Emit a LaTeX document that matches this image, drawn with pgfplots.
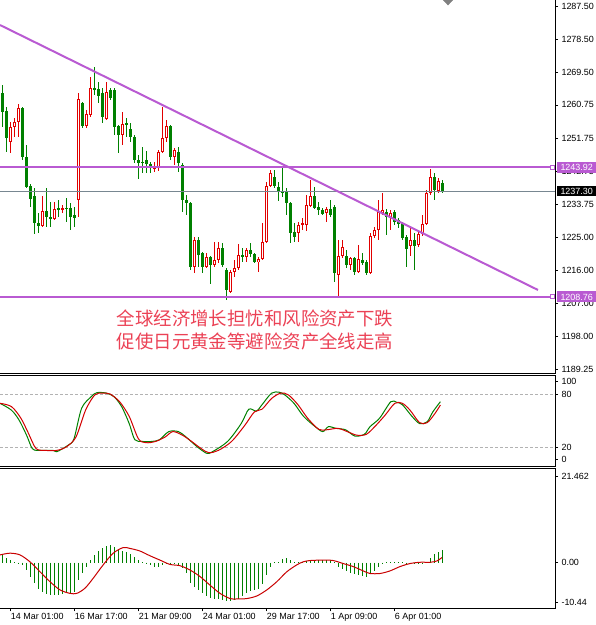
\documentclass[border=0pt]{standalone}
\usepackage{pgfplots}
\pgfplotsset{compat=1.18}
\usepackage{pgfplotstable}
\usepackage{fontspec}
\setmainfont{Liberation Sans}
\newfontfamily\cjk{Noto Sans CJK SC}

\definecolor{bull}{RGB}{225,0,0}
\definecolor{bear}{RGB}{0,128,0}
\definecolor{lvl}{RGB}{185,90,210}
\definecolor{note}{RGB}{235,65,85}
\definecolor{bidline}{RGB}{120,135,145}
\definecolor{stochK}{RGB}{0,128,0}
\definecolor{stochD}{RGB}{210,0,0}
\definecolor{sig}{RGB}{200,0,0}

\newcommand\tickfont{\fontsize{9}{10}\selectfont}

% H4 candles, one row per bar (open high low close)
\pgfplotstableread{
o h l c
1263.95 1266.12 1254.75 1258.81
1259.08 1260.16 1247.98 1251.77
1250.69 1256.10 1247.71 1254.75
1254.75 1257.18 1252.04 1256.10
1256.10 1260.97 1252.04 1259.89
1259.89 1260.16 1245.82 1246.63
1246.63 1249.88 1238.24 1238.51
1238.78 1239.32 1233.10 1235.26
1236.07 1238.24 1225.79 1228.77
1228.77 1231.47 1226.06 1227.96
1227.96 1236.07 1227.69 1232.02
1232.02 1238.24 1227.69 1230.39
1230.39 1234.45 1227.69 1229.85
1229.85 1234.45 1229.58 1232.56
1232.83 1234.99 1230.39 1232.29
1232.29 1233.64 1231.47 1232.83
1232.83 1235.53 1229.04 1232.56
1232.83 1234.18 1226.87 1230.39
1230.93 1233.10 1227.69 1230.12
1234.99 1263.95 1230.39 1262.33
1261.24 1261.51 1254.48 1255.02
1255.02 1259.35 1254.48 1258.27
1258.00 1268.28 1257.45 1265.30
1265.30 1270.99 1263.41 1264.76
1265.03 1266.93 1261.24 1263.14
1263.95 1265.30 1255.83 1257.45
1256.91 1266.93 1256.64 1264.22
1264.76 1265.30 1262.06 1262.60
1264.76 1265.30 1252.58 1254.75
1255.02 1255.29 1247.71 1252.58
1252.58 1258.81 1249.88 1255.56
1255.83 1257.18 1252.04 1255.29
1254.21 1255.83 1250.69 1252.04
1252.04 1252.58 1245.01 1245.82
1245.82 1247.17 1240.68 1245.01
1245.28 1249.34 1242.30 1245.01
1245.82 1248.25 1242.30 1244.74
1244.74 1245.28 1242.30 1243.65
1243.65 1245.28 1242.57 1243.92
1243.65 1248.52 1242.84 1247.98
1247.98 1260.16 1247.71 1251.77
1251.77 1256.64 1250.69 1255.02
1255.02 1255.29 1245.82 1246.63
1246.63 1249.07 1244.47 1248.52
1247.98 1249.34 1242.57 1245.01
1244.47 1245.01 1231.74 1234.99
1234.99 1236.35 1230.93 1234.18
1234.18 1234.45 1216.05 1216.86
1216.86 1224.98 1215.24 1224.17
1224.17 1224.98 1216.86 1220.11
1220.65 1220.92 1215.24 1216.86
1216.86 1220.65 1216.59 1219.56
1219.56 1219.84 1212.26 1217.40
1217.40 1223.62 1216.86 1218.75
1218.75 1223.62 1217.94 1222.00
1222.00 1223.35 1216.86 1217.40
1216.05 1216.59 1207.93 1210.63
1210.09 1216.05 1209.82 1215.51
1215.51 1218.75 1214.15 1216.59
1216.59 1223.08 1216.05 1220.11
1220.11 1222.00 1218.21 1219.56
1219.56 1222.00 1218.21 1221.46
1221.46 1223.35 1219.56 1220.38
1220.38 1220.65 1217.94 1218.21
1218.21 1219.56 1215.51 1219.02
1219.02 1228.77 1218.75 1223.62
1223.62 1239.86 1223.35 1238.78
1238.78 1243.11 1238.51 1242.30
1241.22 1243.11 1238.24 1238.78
1238.51 1239.86 1234.72 1237.16
1237.16 1244.19 1235.80 1236.89
1237.16 1238.24 1230.93 1234.18
1234.18 1234.45 1223.35 1226.06
1226.33 1228.77 1223.62 1224.98
1226.06 1229.04 1223.62 1228.23
1228.23 1230.12 1226.87 1228.77
1228.23 1236.35 1226.60 1233.64
1233.37 1240.40 1233.10 1236.07
1236.07 1238.51 1232.56 1232.83
1233.10 1234.45 1230.93 1232.29
1232.29 1232.83 1230.93 1231.20
1231.47 1233.10 1229.04 1232.56
1232.56 1234.99 1230.39 1230.93
1233.10 1233.64 1212.80 1215.24
1214.69 1224.17 1209.01 1219.84
1219.84 1224.17 1219.29 1222.27
1219.84 1221.46 1216.59 1217.40
1217.40 1219.56 1216.05 1219.29
1219.29 1219.56 1214.69 1215.51
1215.51 1222.81 1215.24 1219.02
1218.75 1220.65 1217.40 1217.94
1218.21 1218.75 1214.69 1215.24
1215.24 1226.06 1214.96 1225.25
1225.25 1227.69 1224.71 1226.87
1226.87 1234.99 1224.17 1231.74
1231.47 1236.89 1230.93 1232.29
1231.74 1232.56 1225.52 1230.39
1230.12 1232.29 1226.87 1231.47
1231.74 1232.29 1228.23 1229.04
1229.58 1230.12 1227.42 1228.50
1228.77 1229.04 1224.17 1224.71
1224.98 1225.52 1216.86 1221.73
1222.54 1227.96 1219.84 1224.17
1224.17 1226.06 1216.05 1222.54
1222.81 1226.33 1222.27 1225.79
1225.79 1230.93 1225.25 1228.50
1228.50 1237.70 1228.23 1236.89
1236.89 1243.38 1236.35 1241.22
1241.22 1242.30 1234.99 1237.70
1237.43 1240.95 1236.89 1240.13
1239.59 1240.40 1236.89 1237.30
}\ohlc

% MACD main (histogram), one row per bar
\pgfplotstableread{
v
1.8
1.2
0.6
0.1
-0.2
-0.5
-1.7
-3.2
-4.8
-6.1
-6.7
-7.3
-7.5
-7.5
-7.5
-7.3
-7.1
-7.1
-6.9
-4.0
-2.5
-0.9
0.6
1.8
2.7
3.5
3.9
4.1
3.7
2.9
2.7
2.4
1.9
1.4
0.6
0.05
-0.4
-0.5
-0.9
-0.9
-0.5
-0.3
-0.4
-0.4
-0.5
-1.3
-2.5
-4.6
-5.6
-6.4
-7.1
-7.6
-8.1
-8.3
-8.4
-8.6
-8.8
-8.8
-8.6
-8.3
-7.7
-7.1
-6.6
-6.4
-6.1
-5.0
-2.9
-0.9
0.05
0.2
0.9
1.0
0.6
0.2
0.1
0.2
0.4
0.6
0.6
0.6
0.6
0.6
0.6
0.05
-0.9
-1.5
-1.9
-2.5
-2.7
-2.9
-3.1
-3.4
-2.5
-1.9
-0.9
-0.4
0.05
0.1
0.1
0.2
0.05
-0.2
-0.4
-0.4
-0.4
-0.2
0.05
1.0
1.9
2.4
2.9
}\macdhist

\pgfplotsset{
  panel/.style={
    scale only axis, width=555bp,
    xmin=-0.5, xmax=138.25,
    axis line style={draw=none},
    xtick=\empty,
    ytick pos=right, tick align=outside,
    major tick length=3bp,
    tick style={black, line width=0.6bp},
    tick label style={font=\tickfont},
  },
  candle/.style 2 args={draw=none, mark=none,
    error bars/y dir=both, error bars/y explicit, error bars/error mark=none,
    error bars/error bar style={line width=#2, draw=#1, solid}},
}

\begin{document}
\begin{tikzpicture}[x=1bp,y=1bp]
\useasboundingbox (0bp,0bp) rectangle (596bp,-625bp);

% ---- price panel
\begin{axis}[panel, name=price, at={(0bp,0bp)}, anchor=north west, height=373bp,
  ymin=1188.17, ymax=1289.12,
  ytick={1189.25,1198,1207,1216,1225,1233.75,1242.75,1251.75,1260.75,1269.5,1278.5,1287.5},
  yticklabels={1189.25,1198.00,1207.00,1216.00,1225.00,1233.75,1242.75,1251.75,1260.75,1269.50,1278.50,1287.50},
]
% wicks
\addplot[candle={bull}{1bp}] table[x expr=\coordindex,
  y expr={0.5*(\thisrow{h}+\thisrow{l})},
  y error expr={\thisrow{c}>=\thisrow{o} ? 0.5*(\thisrow{h}-\thisrow{l}) : 0}] {\ohlc};
\addplot[candle={bear}{1bp}] table[x expr=\coordindex,
  y expr={0.5*(\thisrow{h}+\thisrow{l})},
  y error expr={\thisrow{c}<\thisrow{o} ? 0.5*(\thisrow{h}-\thisrow{l}) : 0}] {\ohlc};
% bodies
\addplot[candle={bull}{3bp}] table[x expr=\coordindex,
  y expr={0.5*(\thisrow{o}+\thisrow{c})},
  y error expr={\thisrow{c}>=\thisrow{o} ? max(0.5*abs(\thisrow{c}-\thisrow{o}),0.14) : 0}] {\ohlc};
\addplot[candle={white}{1bp}] table[x expr=\coordindex,
  y expr={0.5*(\thisrow{o}+\thisrow{c})},
  y error expr={\thisrow{c}>=\thisrow{o} ? max(0.5*abs(\thisrow{c}-\thisrow{o})-0.27,0) : 0}] {\ohlc};
\addplot[candle={bear}{3bp}] table[x expr=\coordindex,
  y expr={0.5*(\thisrow{o}+\thisrow{c})},
  y error expr={\thisrow{c}<\thisrow{o} ? max(0.5*abs(\thisrow{c}-\thisrow{o}),0.14) : 0}] {\ohlc};

% bid line, levels, trend line
\addplot[bidline, line width=0.8bp] coordinates {(-0.5,1237.30) (138.25,1237.30)};
\addplot[lvl, line width=2bp] coordinates {(-0.5,1243.92) (138.25,1243.92)};
\addplot[lvl, line width=2bp] coordinates {(-0.5,1208.76) (138.25,1208.76)};
\addplot[lvl, line width=2bp] coordinates {(-0.5,1282.35) (134,1210.64)};
\addplot[only marks, mark=square*, mark size=2bp, mark options={draw=lvl, fill=white, line width=1bp}]
  coordinates {(137.5,1243.92) (137.5,1208.76)};
\addplot[only marks, mark=diamond*, mark size=5bp, mark options={xscale=1.3, draw=gray, fill=gray}]
  coordinates {(111.5,1289.12)};

\node[font=\cjk\fontsize{18.5}{22.5}\selectfont, text=note, align=center]
  at (axis cs:63.25,1199.81) {全球经济增长担忧和风险资产下跌\\促使日元黄金等避险资产全线走高};

\coordinate (hi) at (axis cs:138.25,1243.92);
\coordinate (lo) at (axis cs:138.25,1208.76);
\coordinate (bid) at (axis cs:138.25,1237.30);
\end{axis}
\draw[black, line width=1bp] (price.south west) -- (price.south east) -- (price.north east);
\node[fill=lvl, text=white, font=\tickfont, inner sep=0pt, minimum width=39bp, minimum height=11bp, anchor=west]
  at ([xshift=2bp]hi) {1243.92};
\node[fill=lvl, text=white, font=\tickfont, inner sep=0pt, minimum width=39bp, minimum height=11bp, anchor=west]
  at ([xshift=2bp]lo) {1208.76};
\node[fill=black, text=white, font=\tickfont, inner sep=0pt, minimum width=39bp, minimum height=10bp, anchor=west]
  at ([xshift=2bp]bid) {1237.30};

% ---- stochastic panel
\begin{axis}[panel, name=stoch, at={(0bp,-375.3bp)}, anchor=north west, height=90.7bp,
  ymin=-0.45, ymax=100.9,
  ytick={7.4,20,80,93.7}, yticklabels={0,20,80,100},
]
\addplot[gray!60, dash pattern=on 3bp off 2bp, line width=0.8bp] coordinates {(-0.5,20) (138.25,20)};
\addplot[gray!60, dash pattern=on 3bp off 2bp, line width=0.8bp] coordinates {(-0.5,80) (138.25,80)};
\addplot[stochK, line width=1bp, smooth, tension=0.5] coordinates {
(-0.5,69.6) (2.35,62) (4.25,51) (6.14,34) (7.57,19) (9.0,17) (12.8,17) (13.7,15.5)
(16.6,23) (18.0,30) (19.9,64) (22.3,77) (23.7,81.5) (26.1,81) (28.0,77) (29.9,66)
(31.8,47) (33.2,29) (35.1,27) (37.5,27) (39.4,29) (41.7,38) (44.1,38) (46.0,32)
(48.8,21) (51.2,13.7) (52.6,15.5) (56.4,27) (59.8,47) (61.7,63) (63.6,61) (65.0,68)
(67.4,81) (69.3,82) (70.7,79) (73.0,69.6) (75.4,55) (78.3,43.5) (80.2,38) (81.6,43.5)
(83.5,41.6) (85.9,40) (88.2,33) (90.6,35) (92.0,43.5) (94.4,53) (97.2,71.4) (98.7,70.7)
(100.1,68) (102.5,55) (104.4,47) (106.3,49) (107.7,60) (109.6,71.4)};
\addplot[stochD, line width=1bp, smooth, tension=0.5] coordinates {
(-0.5,69.6) (2.35,66) (4.72,53) (6.62,36) (8.52,19) (10.9,17) (13.7,17) (16.1,21)
(18.5,32) (20.9,62) (23.2,79) (25.1,81) (27.0,80) (29.4,71.4) (31.8,55) (34.1,30)
(36.0,25.6) (38.4,27) (40.8,32) (42.7,38) (45.1,34) (47.4,27) (49.8,19) (51.7,14.4)
(54.1,17) (57.4,27) (60.7,45) (63.1,60) (65.0,63) (67.4,75) (69.7,81) (71.6,79)
(74.0,68) (76.4,53) (79.2,40.5) (81.1,40) (84.0,41.6) (86.3,38) (88.7,34) (91.1,35)
(93.5,45) (95.8,56.5) (98.2,69.6) (100.1,69.6) (102.0,62) (104.4,48) (106.3,48)
(108.2,58) (109.6,67.7)};
\end{axis}
\draw[black, line width=1bp] (stoch.north west) -- (stoch.north east) -- (stoch.south east) -- (stoch.south west);

% ---- MACD panel
\begin{axis}[panel, name=macd, at={(0bp,-468.3bp)}, anchor=north west, height=140bp,
  ymin=-10.56, ymax=21.85,
  ytick={-9.12,0,20.07}, yticklabels={-10.44,0.00,21.462},
  xtick={2,18,34,50,66,82,98},
  xticklabels={14 Mar 01:00,16 Mar 17:00,21 Mar 09:00,24 Mar 01:00,29 Mar 17:00,1 Apr 09:00,6 Apr 01:00},
  xtick pos=bottom,
  xticklabel style={anchor=north west, inner sep=0pt, xshift=0.7bp, yshift=-2bp},
]
\addplot[ycomb, bear, line width=1bp] table[x expr=\coordindex, y=v] {\macdhist};
\addplot[sig, line width=1bp, smooth, tension=0.5] coordinates {
(-0.5,1.8) (2,2.2) (4.5,1.8) (7,0.2) (9.5,-2.1) (12,-4.4) (14.5,-6.3) (17,-7.1)
(18.7,-7.1) (20.75,-5.9) (22.8,-3.6) (25.3,-0.5) (27.8,2.2) (30.3,3.5) (32,3.3)
(34.5,2.7) (37,1.6) (39.5,0.6) (42,-0.4) (44.5,-0.7) (47,-1.7) (49.5,-3.2) (52,-5.2)
(54.5,-7.1) (57,-8.3) (58.7,-8.4) (61.2,-8.3) (63.7,-7.7) (66.2,-6.3) (68.7,-4.4)
(71.2,-2.1) (73.7,-0.5) (75.3,0.2) (77,0.5) (80.3,0.6) (82.8,0.5) (85.3,-0.2)
(87.8,-0.9) (90.3,-1.9) (92,-2.5) (94.5,-2.5) (97,-1.9) (99.5,-0.9) (102,-0.2)
(104.5,0.1) (107,0.1) (108.7,0.4) (110,1.2)};
\end{axis}
\draw[black, line width=1bp] (macd.north west) -- (macd.north east) -- (macd.south east) -- (macd.south west);
\end{tikzpicture}
\end{document}
